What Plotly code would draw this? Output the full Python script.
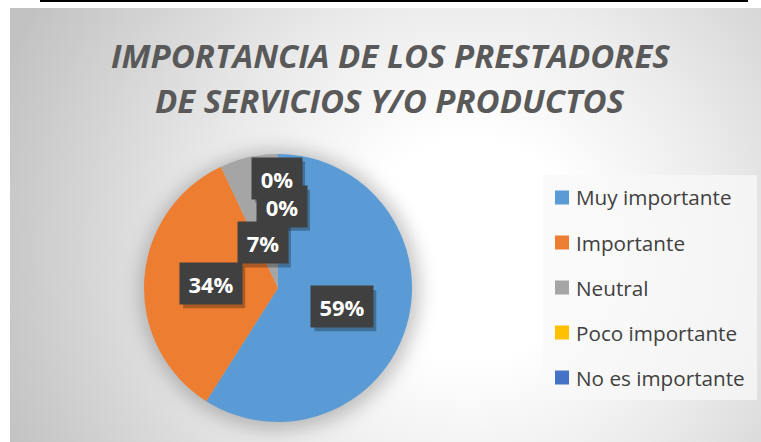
import base64
import math
import plotly.graph_objects as go

# ---- data ----
categories = ["Muy importante", "Importante", "Neutral", "Poco importante", "No es importante"]
values = [59, 34, 7, 0, 0]
pct_labels = ["59%", "34%", "7%", "0%", "0%"]
colors = ["#5B9BD5", "#ED7D31", "#A5A5A5", "#FFC000", "#4472C4"]
title_lines = ["IMPORTANCIA DE LOS PRESTADORES", "DE SERVICIOS Y/O PRODUCTOS"]

# ---- layout constants (style) ----
W, H = 761, 442
CX, CY, R = 278, 288, 134          # pie centre / radius in pixels
label_rfrac = [0.50, 0.50, 0.355, 0.61, 0.82]
label_dang = [0, 0, -6, 2.8, -0.5]
label_zorder = [3, 1, 2, 0, 4]       # draw order of the labels

dom_x = [(CX - R) / W, (CX + R) / W]
dom_y = [1 - (CY + R) / H, 1 - (CY - R) / H]

# ---- background (radial gradient + pie shadow) as svg ----
svg = f'''<svg xmlns="http://www.w3.org/2000/svg" width="{W}" height="{H}" viewBox="0 0 {W} {H}" preserveAspectRatio="none">
<defs>
<radialGradient id="g" gradientUnits="userSpaceOnUse" cx="470" cy="250" r="500">
<stop offset="0" stop-color="#ffffff"/>
<stop offset="0.22" stop-color="#ffffff"/>
<stop offset="0.5" stop-color="#ececec"/>
<stop offset="1" stop-color="#c2c2c2"/>
</radialGradient>
<filter id="b" x="-50%" y="-50%" width="200%" height="200%"><feGaussianBlur stdDeviation="9"/></filter>
</defs>
<rect x="0" y="0" width="{W}" height="{H}" fill="#ffffff"/>
<rect x="10" y="8" width="{W-10}" height="{H-8}" fill="url(#g)"/>
<circle cx="{CX+2}" cy="{CY+2}" r="{R+6}" fill="#000" fill-opacity="0.22" filter="url(#b)"/>
<rect x="40" y="0" width="708" height="2" fill="#000"/>
</svg>'''
svg_uri = "data:image/svg+xml;base64," + base64.b64encode(svg.encode()).decode()

fig = go.Figure()
fig.add_trace(go.Pie(
    labels=categories, values=values, sort=False, direction="clockwise", rotation=0,
    marker=dict(colors=colors, line=dict(width=0)),
    textinfo="none", showlegend=False, domain=dict(x=dom_x, y=dom_y),
))

annotations = []
shapes = []

# title
for i, line in enumerate(title_lines):
    annotations.append(dict(
        text=f"<b><i>{line}</i></b>", x=390 / W, y=1 - (55 + 46 * i) / H,
        xref="paper", yref="paper", showarrow=False, xanchor="center", yanchor="middle",
        font=dict(family="Open Sans", size=33, color="#595959"),
    ))

# data labels positioned from slice angles
total = sum(values)
cum = 0
label_specs = []
for i, v in enumerate(values):
    mid = (cum + v / 2) / total * 360 + label_dang[i]
    cum += v
    r = label_rfrac[i] * R
    px = CX + r * math.sin(math.radians(mid))
    py = CY - r * math.cos(math.radians(mid))
    label_specs.append((label_zorder[i], i, px, py))

label_specs.sort()
for _, i, px, py in label_specs:
    bw = 12 * len(pct_labels[i]) + 26
    bh = 41
    shapes.append(dict(
        type="rect", xref="paper", yref="paper", layer="above",
        x0=(px - bw / 2 + 3) / W, x1=(px + bw / 2 + 3) / W,
        y0=1 - (py + bh / 2 + 4) / H, y1=1 - (py - bh / 2 + 4) / H,
        fillcolor="rgba(0,0,0,0.28)", line=dict(width=0),
    ))
for _, i, px, py in label_specs:
    bw = 12 * len(pct_labels[i]) + 26
    annotations.append(dict(
        text=f"<b>{pct_labels[i]}</b>", x=px / W, y=1 - py / H,
        xref="paper", yref="paper", showarrow=False, xanchor="center", yanchor="middle",
        width=bw, height=41, borderpad=0, bgcolor="#404040",
        font=dict(family="Open Sans", size=22, color="#ffffff"),
    ))

# legend (manual)
shapes.append(dict(
    type="rect", xref="paper", yref="paper", layer="below",
    x0=543 / W, x1=757 / W, y0=1 - 400 / H, y1=1 - 175 / H,
    fillcolor="rgba(248,248,248,0.75)", line=dict(width=0),
))
for i, cat in enumerate(categories):
    yc = 197.5 + 45 * i
    shapes.append(dict(
        type="rect", xref="paper", yref="paper",
        x0=555 / W, x1=569 / W, y0=1 - (yc + 7) / H, y1=1 - (yc - 7) / H,
        fillcolor=colors[i], line=dict(width=0),
    ))
    annotations.append(dict(
        text=cat, x=574 / W, y=1 - yc / H, xref="paper", yref="paper",
        showarrow=False, xanchor="left", yanchor="middle",
        font=dict(family="Open Sans", size=20.7, color="#404040"),
    ))

fig.update_layout(
    width=W, height=H, margin=dict(l=0, r=0, t=0, b=0),
    paper_bgcolor="#ffffff", plot_bgcolor="rgba(0,0,0,0)",
    images=[dict(source=svg_uri, xref="paper", yref="paper", x=0, y=1, sizex=1, sizey=1,
                 xanchor="left", yanchor="top", sizing="stretch", layer="below")],
    annotations=annotations, shapes=shapes,
)
fig.write_html("out.html", config={"displayModeBar": False},
               post_script="document.body.style.margin='0';document.body.style.overflow='hidden';")
